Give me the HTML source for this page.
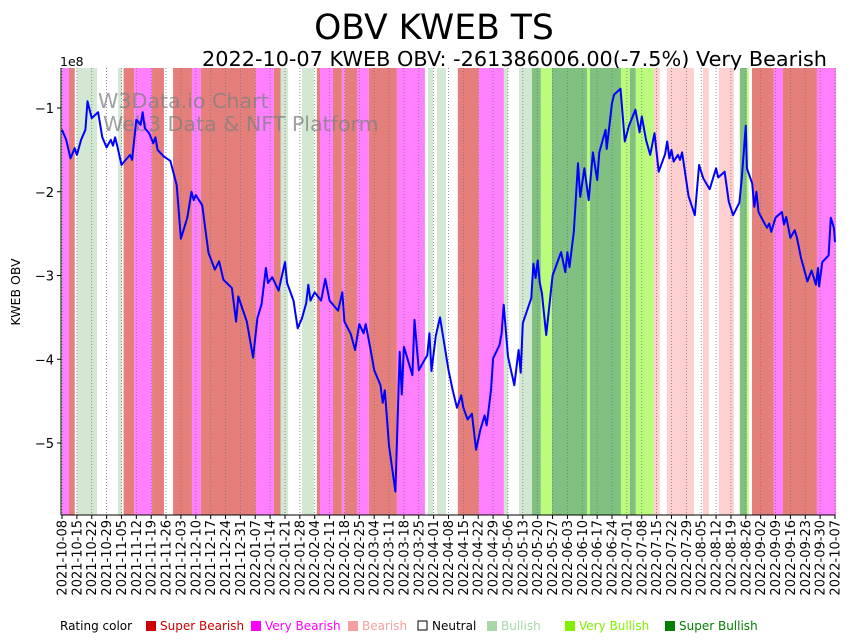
<!DOCTYPE html>
<html><head><meta charset="utf-8"><style>
body{margin:0;background:#fff;}
svg{display:block;font-family:"DejaVu Sans","Liberation Sans",sans-serif;}
</style></head><body>
<svg id="chart" width="851" height="641" viewBox="0 0 851 641" xmlns="http://www.w3.org/2000/svg">
<text x="434" y="39" font-size="34.6" text-anchor="middle">OBV KWEB TS</text>
<text x="827" y="66" font-size="20.8" text-anchor="end">2022-10-07 KWEB OBV: -261386006.00(-7.5%) Very Bearish</text>
<g id="bands"></g><g id="grid"></g>
<text x="98" y="108" font-size="20.6" fill="#808080" fill-opacity="0.75">W3Data.io Chart</text>
<text x="103" y="131" font-size="20.6" fill="#808080" fill-opacity="0.75">Web3 Data &amp; NFT Platform</text>
<g id="line"></g><g id="axes"></g>
<text x="60" y="66" font-size="12.5">1e8</text>
<text transform="translate(20,292) rotate(-90)" font-size="12.5" text-anchor="middle">KWEB OBV</text>
<g id="legend" font-size="12">
<text x="60" y="630">Rating color</text>
<rect x="146" y="621" width="10" height="10" fill="#cc0000"/><text x="160" y="630" fill="#cc0000">Super Bearish</text>
<rect x="251" y="621" width="10" height="10" fill="#ff00ff"/><text x="265" y="630" fill="#ff00ff">Very Bearish</text>
<rect x="348" y="621" width="10" height="10" fill="#f4a0a0"/><text x="362" y="630" fill="#f4a0a0">Bearish</text>
<rect x="418" y="621" width="9" height="9" fill="#fff" stroke="#000"/><text x="432" y="630">Neutral</text>
<rect x="487" y="621" width="10" height="10" fill="#a8d8a8"/><text x="501" y="630" fill="#a8d8a8">Bullish</text>
<rect x="565" y="621" width="10" height="10" fill="#80f000"/><text x="579" y="630" fill="#80f000">Very Bullish</text>
<rect x="665" y="621" width="10" height="10" fill="#008000"/><text x="679" y="630" fill="#008000">Super Bullish</text>
</g>
</svg>
<script>
const bandStart=[0,3.3,7,26.4,29,34,42.4,52.3,61.2,65.4,91.3,99.8,103,113,120,121.5,127.6,131.8,133.2,138.9,144.5,157.7,172.3,176.6,186.4,196.3,208.1,215.2,221.3,225.5,230.7,247.2,248.6,263.2,267.4,270.2,278.7,284.8,301.8,309.3,319.2,322.5,324.9,335.2,339.5,355.5];
const bandEnd=[3.3,6,16.5,28.2,34,42.4,48,61.2,65.4,91.3,99.8,103,106.4,118.6,121.5,127.6,131.8,133.2,138.9,144.5,157.7,170.9,174.7,180.8,196.3,208.1,210,221.3,225.5,230.7,247.2,248.6,263.2,267.4,270.2,278.7,281.5,297.6,304.6,316.4,322.5,323.4,335.2,339.5,355.5,364.5];
const bandRating=["vbear","sbear","bull","bull","sbear","vbear","sbear","sbear","vbear","sbear","vbear","sbear","bull","bull","sbear","vbear","sbear","vbear","sbear","vbear","sbear","vbear","bull","bull","sbear","vbear","bull","bull","sbull","vbull","sbull","vbull","sbull","vbull","sbull","vbull","bear","bear","bear","bear","sbull","vbull","sbear","vbear","sbear","vbear"];
const obvDays=[0,2,4,6,7,9,11,12,14,17,19,21,23,24,25,26,28,30,32,33,35,37,38,39,41,43,44,45,48,51,54,56,59,61,62,63,66,69,72,74,76,80,82,83,85,87,90,92,94,96,97,99,102,105,106,109,111,113,115,116,117,119,122,124,126,130,132,133,136,138,140,142,143,145,147,150,151,152,154,157,159,160,161,165,166,168,172,173,174,176,178,182,184,186,188,189,191,193,195,197,199,200,202,203,206,207,208,210,213,215,216,217,221,222,223,224,225,226,228,231,235,237,238,239,241,243,244,246,248,250,252,253,256,256.5,259,260,263,265,267,270,272,273,275,277,279,281,284,285,286,287,288,290,291,292,295,298,300,302,305,308,309,312,314,316,319,320,322,322.5,325,326,327,328,330,332,333,334,336,339,340,341,343,345,346,348,351,353,355,356,356.5,358,361,362,363.5,364];
const obvValues=[-1.26,-1.38,-1.6,-1.48,-1.56,-1.38,-1.26,-0.92,-1.12,-1.05,-1.35,-1.47,-1.38,-1.45,-1.35,-1.45,-1.68,-1.62,-1.56,-1.62,-1.14,-1.2,-1.05,-1.24,-1.3,-1.42,-1.35,-1.5,-1.58,-1.63,-1.92,-2.56,-2.31,-2.0,-2.1,-2.04,-2.16,-2.73,-2.93,-2.83,-3.05,-3.15,-3.55,-3.25,-3.4,-3.55,-3.98,-3.51,-3.34,-2.91,-3.09,-3.02,-3.18,-2.84,-3.09,-3.3,-3.63,-3.51,-3.33,-3.11,-3.3,-3.2,-3.3,-3.04,-3.3,-3.42,-3.2,-3.55,-3.7,-3.89,-3.58,-3.69,-3.58,-3.84,-4.13,-4.31,-4.52,-4.37,-5.03,-5.58,-3.91,-4.42,-3.85,-4.19,-3.53,-4.13,-3.95,-3.69,-4.14,-3.72,-3.5,-4.13,-4.37,-4.58,-4.43,-4.58,-4.72,-4.65,-5.08,-4.84,-4.67,-4.79,-4.37,-3.99,-3.83,-3.69,-3.35,-3.97,-4.31,-3.89,-4.16,-3.57,-3.27,-2.86,-3.03,-2.82,-3.09,-3.21,-3.71,-3.0,-2.72,-2.96,-2.72,-2.9,-2.48,-1.66,-2.06,-1.72,-2.1,-1.53,-1.86,-1.53,-1.26,-1.49,-0.94,-0.84,-0.77,-1.4,-1.21,-1.02,-1.29,-1.1,-1.38,-1.56,-1.3,-1.76,-1.55,-1.4,-1.6,-1.5,-1.64,-1.56,-1.62,-1.53,-2.05,-2.28,-1.68,-1.84,-1.97,-1.72,-1.83,-1.76,-2.12,-2.28,-2.13,-1.86,-1.21,-1.72,-1.9,-2.18,-2.0,-2.24,-2.34,-2.43,-2.38,-2.48,-2.31,-2.24,-2.39,-2.3,-2.55,-2.46,-2.54,-2.79,-3.07,-2.94,-3.11,-2.91,-3.13,-2.84,-2.76,-2.31,-2.43,-2.6];
const yTicks=[-1,-2,-3,-4,-5];
const startDate=new Date(Date.UTC(2021,9,8));
const NS="http://www.w3.org/2000/svg";
const X0=62,X1=835,D1=364,PT=68,PB=515;
function xs(d){return X0+d*(X1-X0)/D1;}
function ys(v){return 108+(-1-v)*83.75;}
const colors={sbear:"#e47f7b",vbear:"#ff80ff",bear:"#ffd0d0",bull:"#d3e8d3",sbull:"#80c080",vbull:"#bcfc7c"};
function mk(t,a,p){const e=document.createElementNS(NS,t);for(const k in a)e.setAttribute(k,a[k]);p.appendChild(e);return e;}
const bands=document.getElementById('bands');
bandStart.forEach((s,i)=>{
 const r=mk('rect',{x:xs(s),y:PT,width:Math.max(0,xs(bandEnd[i])-xs(s)),height:PB-PT,fill:colors[bandRating[i]]},bands);
 
 
});
const grid=document.getElementById('grid'),axes=document.getElementById('axes');
for(let d=0;d<=D1;d+=7){
 const x=xs(d);
 const g=mk('line',{x1:x,x2:x,y1:PT,y2:PB,stroke:"#777","stroke-width":0.8,"stroke-dasharray":"1,2"},grid);
 
 
 mk('line',{x1:x,x2:x,y1:PB,y2:PB+4,stroke:"#000"},axes);
 const dt=new Date(startDate.getTime()+d*864e5);
 const lab=dt.toISOString().slice(0,10);
 const t=mk('text',{transform:`translate(${x+4.5},${PB+5}) rotate(-90)`,"font-size":13,"text-anchor":"end"},axes);
 t.textContent=lab;
 
 
}
yTicks.forEach(v=>{
 const y=ys(v);
 mk('line',{x1:57,x2:61,y1:y,y2:y,stroke:"#000"},axes);
 const t=mk('text',{x:54,y:y+5,"font-size":13,"text-anchor":"end"},axes);
 t.textContent='\u2212'+Math.abs(v);
 
 
});
const l1=mk('line',{x1:61,x2:61,y1:PT,y2:PB,stroke:"#000"},axes);


const l2=mk('line',{x1:61,x2:835.5,y1:PB,y2:PB,stroke:"#000"},axes);


const pts=obvDays.map((d,i)=>xs(d).toFixed(1)+','+ys(obvValues[i]).toFixed(1)).join(' ');
const pl=mk('polyline',{points:pts,fill:"none",stroke:"#0000ff","stroke-width":2,"stroke-linejoin":"round"},document.getElementById('line'));


</script>
</body></html>
